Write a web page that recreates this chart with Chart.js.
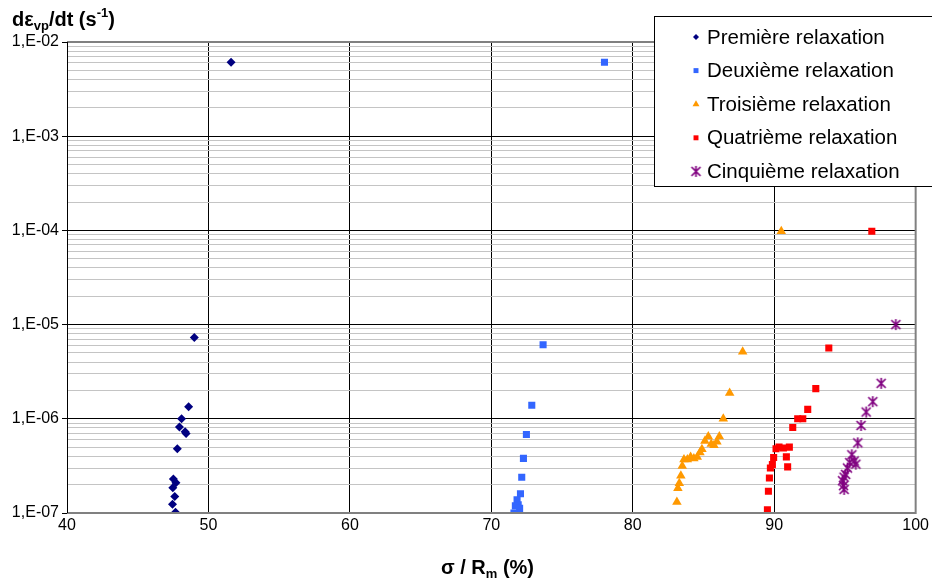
<!DOCTYPE html>
<html>
<head>
<meta charset="utf-8">
<script src="https://cdn.jsdelivr.net/npm/chart.js@4.4.1/dist/chart.umd.min.js"></script>
<style>
  html, body { margin: 0; padding: 0; background: #fff; }
  #wrap { width: 932px; height: 583px; position: relative; }
</style>
</head>
<body>
<div id="wrap"><canvas id="chart"></canvas></div>
<script>
// data: [sigma/Rm (%), strain rate (1/s)]
const seriesNames = ['Première relaxation', 'Deuxième relaxation', 'Troisième relaxation', 'Quatrième relaxation', 'Cinquième relaxation'];

const premiere = [
  [51.6, 6.1e-3], [49.0, 7.3e-6], [48.6, 1.34e-6], [48.1, 1.0e-6], [47.95, 8.2e-7],
  [48.35, 7.3e-7], [48.42, 7.0e-7], [47.8, 4.8e-7], [47.52, 2.3e-7], [47.7, 2.1e-7],
  [47.48, 1.85e-7], [47.62, 1.5e-7], [47.46, 1.24e-7], [47.67, 1.02e-7]
];
const deuxieme = [
  [78.0, 6.1e-3], [73.66, 6.1e-6], [72.86, 1.39e-6], [72.48, 6.8e-7], [72.27, 3.8e-7],
  [72.15, 2.4e-7], [72.06, 1.6e-7], [71.82, 1.38e-7], [71.9, 1.22e-7], [71.7, 1.19e-7],
  [72.0, 1.12e-7], [71.6, 1.0e-7]
];
const troisieme = [
  [90.5, 9.8e-5], [87.77, 5.16e-6], [86.85, 1.88e-6], [86.4, 1.0e-6], [86.12, 6.5e-7],
  [85.95, 5.7e-7], [85.74, 5.25e-7], [85.55, 5.4e-7], [85.34, 6.5e-7], [85.1, 5.8e-7],
  [84.89, 4.75e-7], [84.75, 4.4e-7], [84.56, 3.94e-7], [84.32, 3.8e-7], [84.09, 3.94e-7],
  [83.86, 3.7e-7], [83.62, 3.7e-7], [83.5, 3.16e-7], [83.4, 2.48e-7], [83.29, 2.07e-7],
  [83.19, 1.83e-7], [83.12, 1.31e-7]
];
const quatrieme = [
  [96.9, 9.8e-5], [93.86, 5.65e-6], [92.94, 2.09e-6], [92.37, 1.26e-6], [92.02, 1.0e-6],
  [91.66, 1.0e-6], [91.31, 8.1e-7], [91.07, 5.0e-7], [90.86, 3.94e-7], [90.95, 3.09e-7],
  [90.65, 4.9e-7], [90.34, 5.0e-7], [90.13, 4.8e-7], [89.96, 3.89e-7], [89.87, 3.26e-7],
  [89.73, 3.0e-7], [89.66, 2.35e-7], [89.59, 1.7e-7], [89.52, 1.08e-7]
];
const cinquieme = [
  [98.6, 1.0e-5], [97.56, 2.38e-6], [96.97, 1.52e-6], [96.5, 1.18e-6], [96.14, 8.5e-7],
  [95.91, 5.56e-7], [95.49, 4.15e-7], [95.65, 3.57e-7], [95.77, 3.3e-7], [95.34, 3.43e-7],
  [95.18, 3.0e-7], [95.05, 2.57e-7], [94.94, 2.4e-7], [94.83, 2.2e-7], [94.9, 1.95e-7],
  [94.94, 1.78e-7]
];

const xTicks = [40, 50, 60, 70, 80, 90, 100];
const yDecades = [1e-7, 1e-6, 1e-5, 1e-4, 1e-3, 1e-2];
const yLabels = ['1,E-07', '1,E-06', '1,E-05', '1,E-04', '1,E-03', '1,E-02'];

const toPts = arr => arr.map(p => ({ x: p[0], y: p[1] }));
const decadeIndex = v => yDecades.findIndex(d => Math.abs(v - d) / d < 1e-6);

// ticks 1..9 in each decade, labels only on the decades
function logTicks() {
  const out = [];
  for (let i = 0; i < yDecades.length - 1; i++) {
    for (let m = 1; m <= 9; m++) out.push({ value: yDecades[i] * m });
  }
  out.push({ value: yDecades[yDecades.length - 1] });
  return out;
}

// asterisk marker for the fifth series
function starCanvas(color) {
  const c = document.createElement('canvas');
  c.width = 13; c.height = 13;
  const g = c.getContext('2d');
  g.strokeStyle = color; g.lineWidth = 1.7;
  g.beginPath();
  g.moveTo(2, 2); g.lineTo(11, 11);
  g.moveTo(11, 2); g.lineTo(2, 11);
  g.moveTo(6.5, 1); g.lineTo(6.5, 12);
  g.stroke();
  return c;
}

const colors = ['#000080', '#3366FF', '#FF9900', '#FF0000', '#800080'];
const styles = ['rectRot', 'rect', 'triangle', 'rect', starCanvas('#800080')];
const radii = [4.5, 5, 5.5, 5, 6];
const seriesData = [premiere, deuxieme, troisieme, quatrieme, cinquieme];

const datasets = seriesData.map((d, i) => ({
  label: seriesNames[i],
  data: toPts(d),
  backgroundColor: colors[i],
  borderColor: colors[i],
  borderWidth: 0,
  pointStyle: styles[i],
  pointRadius: radii[i],
  pointHoverRadius: radii[i]
}));

const FONT = '"Liberation Sans", Arial, sans-serif';

// titles with sub/superscripts, plot border and the boxed legend
const decorations = {
  id: 'decorations',
  afterDraw(chart) {
    const ctx = chart.ctx;
    const area = chart.chartArea;
    ctx.save();

    ctx.strokeStyle = '#808080';
    ctx.lineWidth = 2;
    ctx.beginPath();
    ctx.moveTo(area.left, area.top);
    ctx.lineTo(area.right, area.top);
    ctx.lineTo(area.right, area.bottom);
    ctx.lineTo(area.left, area.bottom);
    ctx.stroke();
    ctx.strokeStyle = '#000';
    ctx.lineWidth = 1;
    ctx.beginPath();
    ctx.moveTo(area.left + 0.5, area.top);
    ctx.lineTo(area.left + 0.5, area.bottom);
    ctx.stroke();

    // y title
    ctx.fillStyle = '#000';
    ctx.textBaseline = 'alphabetic';
    ctx.textAlign = 'left';
    const big = 'bold 20px ' + FONT;
    const small = 'bold 13px ' + FONT;
    let x = 12, y = 26;
    [['dε', big, 0], ['vp', small, 4], ['/dt (s', big, 0], ['-1', small, -9], [')', big, 0]]
      .forEach(p => { ctx.font = p[1]; ctx.fillText(p[0], x, y + p[2]); x += ctx.measureText(p[0]).width; });

    // x title
    const parts = [['σ / R', big, 0], ['m', small, 4], [' (%)', big, 0]];
    x = 441;
    y = 574;
    parts.forEach(p => { ctx.font = p[1]; ctx.fillText(p[0], x, y + p[2]); x += ctx.measureText(p[0]).width; });

    // legend box
    const lx = 654, ly = 16, lw = 280, lh = 170;
    ctx.fillStyle = '#fff';
    ctx.fillRect(lx, ly, lw, lh);
    ctx.strokeStyle = '#000';
    ctx.lineWidth = 1;
    ctx.strokeRect(lx + 0.5, ly + 0.5, lw, lh);
    ctx.font = '20.5px ' + FONT;
    ctx.textBaseline = 'middle';
    chart.data.datasets.forEach((ds, i) => {
      const ry = 37 + i * 33.6;
      ctx.fillStyle = ds.backgroundColor;
      ctx.strokeStyle = ds.borderColor;
      Chart.helpers.drawPoint(ctx, {
        pointStyle: ds.pointStyle, radius: [3, 3.5, 4, 3.5, 6][i],
        rotation: 0, borderWidth: 0
      }, 696, ry);
      ctx.fillStyle = '#000';
      ctx.fillText(ds.label, 707, ry + 1);
    });
    ctx.restore();
  }
};

new Chart(document.getElementById('chart'), {
  type: 'scatter',
  data: { datasets },
  options: {
    responsive: true,
    maintainAspectRatio: false,
    animation: false,
    layout: { padding: { top: 42, right: 13, left: 0, bottom: 0 } },
    plugins: {
      legend: { display: false },
      tooltip: { enabled: false }
    },
    scales: {
      x: {
        type: 'linear',
        min: 40, max: 100,
        afterBuildTicks: s => { s.ticks = xTicks.map(v => ({ value: v })); },
        afterFit: s => { s.height = 70; },
        border: { display: false },
        grid: { color: '#000', lineWidth: 1, drawTicks: false },
        ticks: {
          padding: 3,
          color: '#000',
          font: { family: FONT, size: 16 }
        }
      },
      y: {
        type: 'logarithmic',
        min: 1e-7, max: 1e-2,
        afterBuildTicks: s => { s.ticks = logTicks(); },
        afterFit: s => { s.width = 67; },
        border: { display: false },
        grid: {
          color: c => decadeIndex(c.tick.value) >= 0 ? '#000' : '#c4c4c4',
          lineWidth: 1,
          tickLength: 5,
          tickColor: c => decadeIndex(c.tick.value) >= 0 ? '#000' : 'rgba(0,0,0,0)'
        },
        ticks: {
          autoSkip: false,
          padding: 3,
          color: '#000',
          font: { family: FONT, size: 16 },
          callback: v => {
            const k = decadeIndex(v);
            return k >= 0 ? yLabels[k] : '';
          }
        }
      }
    }
  },
  plugins: [decorations]
});
</script>
</body>
</html>
